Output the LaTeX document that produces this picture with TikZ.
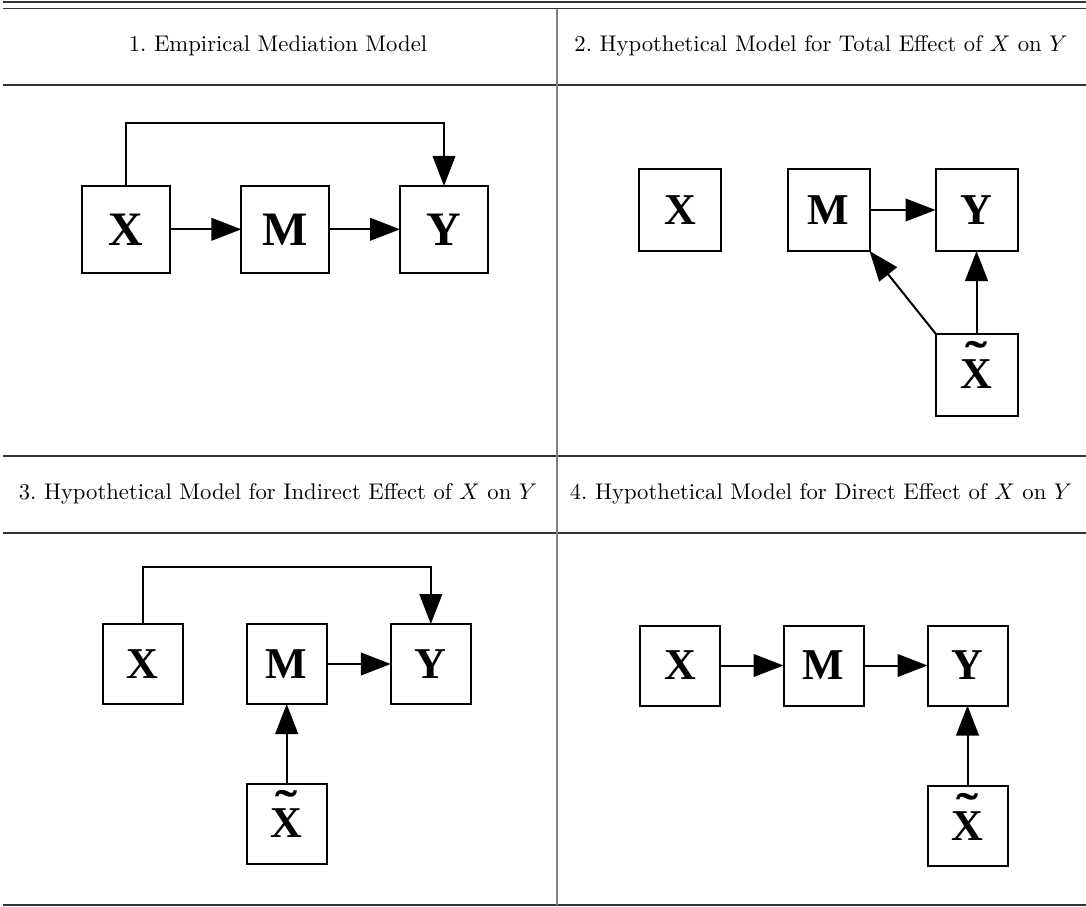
\documentclass[tikz,border=0pt]{standalone}
\usepackage{fontspec}
\usepackage{graphicx}
\newfontfamily\gvfont{Liberation Serif}
\usetikzlibrary{arrows.meta}
\newlength\xwd
\newcommand\tildeX{\settowidth\xwd{X}\rlap{\hbox to\xwd{\hss\raisebox{0.34em}{\scalebox{1.5}[1.05]{\char"02DC}}\hss}}X}
\newcommand\hdtext[1]{\scalebox{1.7}{\fontsize{10}{12}\selectfont #1}}
\begin{document}
\begin{tikzpicture}[x=0.75pt,y=-0.75pt,
  rulefmt/.style={line width=0.9pt, black!80},
  divider/.style={line width=0.8pt, black!50},
  header/.style={inner sep=0pt},
  box/.style={draw, line width=1.5pt, inner sep=0pt, outer sep=0pt,
    font=\gvfont\bfseries\fontsize{33}{38}\selectfont,
    text height=21.6pt, text depth=0pt,
    minimum width=60pt, minimum height=60pt},
  bigbox/.style={box, font=\gvfont\bfseries\fontsize{36}{42}\selectfont,
    text height=23.6pt, minimum width=66pt, minimum height=65pt},
  arr/.style={-{Triangle[length=22.5pt,width=17pt]}, line width=1.5pt}]
\useasboundingbox (0,0) rectangle (1086,907);

% rules
\draw[rulefmt] (3,2) -- (1086,2);
\draw[rulefmt] (3,8.5) -- (1086,8.5);
\draw[rulefmt] (3,85) -- (1086,85);
\draw[rulefmt] (3,456) -- (1086,456);
\draw[rulefmt] (3,533) -- (1086,533);
\draw[rulefmt] (3,905) -- (1086,905);
\draw[divider] (557,8.5) -- (557,905);

% headers
\node[header] (h1) at (278,46) {\hdtext{1.\ Empirical Mediation Model}};
\node[header] (h2) at (821,46) {\hdtext{2.\ Hypothetical Model for Total Effect of $X$ on $Y$}};
\node[header] (h3) at (278,494) {\hdtext{3.\ Hypothetical Model for Indirect Effect of $X$ on $Y$}};
\node[header] (h4) at (821,494) {\hdtext{4.\ Hypothetical Model for Direct Effect of $X$ on $Y$}};

% panel 1
\node[bigbox] (X1) at (126,229.3) {X};
\node[bigbox] (M1) at (285.3,229.3) {M};
\node[bigbox] (Y1) at (444,229.3) {Y};
\coordinate (t1) at (0,122.7);
\draw[arr] (X1) -- (M1);
\draw[arr] (M1) -- (Y1);
\draw[arr] (X1.north) |- (t1 -| Y1.north) -- (Y1.north);

% panel 2
\node[box, minimum width=61.5pt, minimum height=61.5pt] (X2) at (680,210) {X};
\node[box, minimum width=61.5pt, minimum height=61.5pt] (M2) at (828.5,210) {M};
\node[box, minimum width=61.5pt, minimum height=61.5pt] (Y2) at (976.5,210) {Y};
\node[box, minimum width=61.5pt, minimum height=61.5pt] (T2) at (976.5,374.5) {\tildeX};
\draw[arr] (M2) -- (Y2);
\draw[arr] (T2) -- (Y2);
\draw[arr] (T2.north west) -- (M2.south east);

% panel 3
\node[box] (X3) at (142.5,664) {X};
\node[box] (M3) at (286.7,664) {M};
\node[box] (Y3) at (430.8,664) {Y};
\node[box] (T3) at (286.7,823.5) {\tildeX};
\coordinate (t3) at (0,567);
\draw[arr] (M3) -- (Y3);
\draw[arr] (T3) -- (M3);
\draw[arr] (X3.north) |- (t3 -| Y3.north) -- (Y3.north);

% panel 4
\node[box] (X4) at (680,665.5) {X};
\node[box] (M4) at (823.5,665.5) {M};
\node[box] (Y4) at (967.5,665.5) {Y};
\node[box] (T4) at (967.5,826) {\tildeX};
\draw[arr] (X4) -- (M4);
\draw[arr] (M4) -- (Y4);
\draw[arr] (T4) -- (Y4);
\end{tikzpicture}
\end{document}
